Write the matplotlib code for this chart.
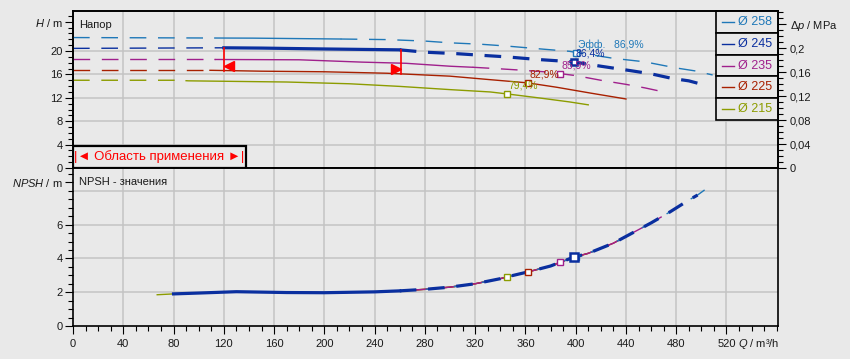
import numpy as np
import matplotlib.pyplot as plt
import matplotlib.transforms as mtransforms
from matplotlib.patches import Rectangle
from matplotlib.ticker import MultipleLocator

plt.rcParams['font.family'] = ['Liberation Sans', 'DejaVu Sans']
plt.rcParams['mathtext.fontset'] = 'custom'
plt.rcParams['mathtext.rm'] = 'Liberation Sans'
plt.rcParams['mathtext.it'] = 'Liberation Sans:italic'
plt.rcParams['lines.scale_dashes'] = False

# --- данные ---
labels = ['Ø 258', 'Ø 245', 'Ø 235', 'Ø 225', 'Ø 215']
colors = ['#1f78b8', '#0a2f9f', '#a0208c', '#a82000', '#8c9c00']

q258 = [0, 143, 213, 250, 280, 300, 325, 345, 375, 395, 430, 455, 480, 495, 509]
h258 = [22.3, 22.2, 22.05, 21.95, 21.7, 21.4, 21.15, 20.85, 20.3, 19.95, 18.75, 18.15, 17.1, 16.6, 15.9]
q245 = [0, 120, 150, 200, 260, 280, 305, 330, 345, 370, 398, 420, 445, 460, 477, 490, 497]
h245 = [20.45, 20.55, 20.5, 20.35, 20.2, 19.8, 19.55, 19.2, 19.0, 18.55, 18.15, 17.4, 16.6, 16.1, 15.3, 14.9, 14.5]
q235 = [0, 115, 180, 230, 265, 300, 320, 340, 355, 375, 387, 400, 420, 440, 455, 468]
h235 = [18.55, 18.55, 18.5, 18.1, 17.9, 17.4, 17.2, 16.95, 16.75, 16.45, 16.15, 15.8, 15.0, 14.3, 13.7, 13.1]
q225 = [0, 110, 150, 200, 250, 300, 332, 362, 385, 412, 440]
h225 = [16.7, 16.7, 16.55, 16.45, 16.2, 15.7, 15.1, 14.55, 13.8, 12.8, 11.8]
q215 = [0, 83, 92, 170, 220, 260, 300, 332, 346, 372, 395, 410]
h215 = [15.0, 15.0, 14.9, 14.7, 14.4, 13.95, 13.4, 13.0, 12.65, 11.95, 11.3, 10.8]

curves_q = [q258, q245, q235, q225, q215]
curves_h = [h258, h245, h235, h225, h215]
solid_from = [113, 120, 113, 109, 90]
solid_to = [213, 260, 318, 440, 410]

# NPSH (общая кривая)
q_npsh = [67, 80, 100, 130, 170, 200, 240, 260, 280, 300, 320, 340, 346, 362, 380, 387,
          398, 410, 430, 445, 460, 475, 490, 497, 510]
npsh = [1.85, 1.9, 1.95, 2.03, 1.98, 1.97, 2.02, 2.08, 2.17, 2.3, 2.5, 2.8, 2.92, 3.2, 3.55, 3.75,
        4.06, 4.3, 4.9, 5.5, 6.1, 6.75, 7.45, 7.75, 8.45]
npsh_from = [80, 80, 80, 80, 67]

# рабочие точки
q_op = [400.5, 398.6, 387.4, 362.3, 345.6]
h_op = [19.6, 18.2, 16.15, 14.55, 12.65]
eff = ['Эфф.   86,9%', '86,4%', '85,9%', '82,9%', '79,4%']

# область применения
q_app = [120, 261]

h_ticks = [0, 4, 8, 12, 16, 20]
dp_ticks = [0, 0.04, 0.08, 0.12, 0.16, 0.2]
dp_labels = ['0', '0,04', '0,08', '0,12', '0,16', '0,2']
n_ticks = [0, 2, 4, 6]
q_ticks = list(range(0, 521, 40))

bg = '#e9e9e9'
grid_c = '#c4c4c4'
txt_c = '#1a1a1a'
dash = (0, (12, 8.4))


def split(q, h, q0, q1):
    q = np.asarray(q, float)
    h = np.asarray(h, float)

    def seg(a, b):
        m = (q > a) & (q < b)
        qs = np.r_[a, q[m], b]
        return qs, np.interp(qs, q, h)
    return seg(q[0], q0), seg(q0, q1), seg(q1, q[-1])


fig = plt.figure(figsize=(8.5, 3.59), dpi=100, facecolor=bg)
ax1 = fig.add_axes([73/850, (359-168)/359, 705/850, 157/359], facecolor=bg)
ax2 = fig.add_axes([73/850, (359-326)/359, 705/850, 158/359], facecolor=bg)

for ax in (ax1, ax2):
    ax.set_xlim(0, 561)
    for s in ax.spines.values():
        s.set_linewidth(1.2)
        s.set_color('black')
    for v in q_ticks[1:]:
        ax.axvline(v, color=grid_c, lw=1.1, zorder=0)
    ax.xaxis.set_major_locator(MultipleLocator(40))
    ax.xaxis.set_minor_locator(MultipleLocator(10))
    ax.tick_params(which='both', direction='out', width=0.8, colors='black',
                   labelcolor=txt_c, labelsize=8)
    ax.tick_params(which='major', length=5.5)
    ax.tick_params(which='minor', length=3.5)

# --- напор ---
ax1.set_ylim(0, 26.84)
for v in h_ticks[1:]:
    ax1.axhline(v, color=grid_c, lw=1.1, zorder=0)
ax1.set_yticks(h_ticks + [25])
ax1.set_yticklabels([str(v) for v in h_ticks] + ['$H$ / m'])
ax1.yaxis.set_minor_locator(MultipleLocator(1))
ax1.tick_params(axis='y', pad=2)
ax1.tick_params(axis='x', which='both', length=0, labelbottom=False)

for i in range(5):
    (qa, ha), (qb, hb), (qc, hc) = split(curves_q[i], curves_h[i], solid_from[i], solid_to[i])
    lw = 2.3 if i == 1 else 1.0
    z = 4 if i == 1 else 3
    ax1.plot(qa, ha, color=colors[i], lw=1.0, linestyle=dash, zorder=3)
    ax1.plot(qb, hb, color=colors[i], lw=lw, zorder=z)
    ax1.plot(qc, hc, color=colors[i], lw=lw, linestyle=dash, zorder=z)

# границы области применения
for k, qa in enumerate(q_app):
    h_top = np.interp(qa, q245, h245)
    h_bot = np.interp(qa, q225, h225)
    ax1.plot([qa, qa], [h_bot, h_top], color='#ff0000', lw=1.2, zorder=5)
    dx = 5 if k == 0 else -5
    tr = mtransforms.offset_copy(ax1.transData, fig=fig, x=dx, y=4.5, units='dots')
    ax1.plot([qa], [h_bot], marker='<' if k == 0 else '>', ms=7.5, color='#ff0000',
             mec='#ff0000', transform=tr, zorder=5)

# рабочие точки
for i in range(5):
    big = i == 1
    ax1.plot([q_op[i]], [h_op[i]], marker='s', ms=5 if big else 5, mfc='white',
             mec=colors[i], mew=1.8 if big else 1.0, zorder=6)
    ax1.annotate(eff[i], (q_op[i], h_op[i]), xytext=(1.5, 8.5), textcoords='offset pixels',
                 ha='left', va='center', fontsize=7.5, color=colors[i], zorder=7)

ax1.text(0.009, 0.914, 'Напор', transform=ax1.transAxes, fontsize=8, color=txt_c,
         ha='left', va='center')

# правая ось Δp
axr = ax1.twinx()
axr.set_ylim(0, 0.2617)
axr.set_yticks(dp_ticks + [0.24])
axr.set_yticklabels(dp_labels + ['$Δp$ / MPa'])
axr.yaxis.set_minor_locator(MultipleLocator(0.01))
axr.tick_params(which='both', direction='out', width=0.8, labelsize=8, labelcolor=txt_c, pad=3)
axr.tick_params(which='major', length=5.5)
axr.tick_params(which='minor', length=3.5)
for s in axr.spines.values():
    s.set_linewidth(1.2)

# легенда
x0, x1 = 0.9116, 1.0
cell = (1.0 - 0.3057) / 5
for i in range(5):
    yb = 1.0 - (i + 1) * cell
    ax1.add_patch(Rectangle((x0, yb), x1 - x0, cell, transform=ax1.transAxes,
                            facecolor=bg, edgecolor='black', lw=1.2, zorder=8, clip_on=False))
    yc = yb + cell / 2
    ax1.plot([0.921, 0.937], [yc, yc], transform=ax1.transAxes, color=colors[i], lw=1.0,
             zorder=9, clip_on=False)
    ax1.text(0.943, yc, labels[i], transform=ax1.transAxes, fontsize=9, color=colors[i],
             ha='left', va='center', zorder=9)

# область применения
ax1.add_patch(Rectangle((0, 0), 0.245, 0.142, transform=ax1.transAxes, facecolor=bg,
                        edgecolor='black', lw=1.6, zorder=8))
ax1.text(0.1225, 0.07, '|◄ Область применения ►|', transform=ax1.transAxes, fontsize=9.5,
         color='#ff0000', ha='center', va='center', zorder=9)

# --- NPSH ---
ax2.set_ylim(0, 9.35)
for v in [2, 4, 6, 8]:
    ax2.axhline(v, color=grid_c, lw=1.1, zorder=0)
ax2.set_yticks(n_ticks + [8.5])
ax2.set_yticklabels([str(v) for v in n_ticks] + ['$NPSH$ / m'])
ax2.yaxis.set_minor_locator(MultipleLocator(0.5))
ax2.tick_params(axis='y', pad=2)
ax2.tick_params(axis='x', pad=4)
ax2.set_xticks(q_ticks)
ax2.set_xticklabels([str(v) for v in q_ticks])

order = [4, 3, 2, 0, 1]
for i in order:
    qn = np.asarray(q_npsh, float)
    m = (qn >= npsh_from[i]) & (qn <= curves_q[i][-1])
    qs = np.r_[qn[m], curves_q[i][-1]]
    ns = np.interp(qs, q_npsh, npsh)
    if i == 1:
        (qa, na), (qb, nb), (qc, nc) = split(qs, ns, qs[0], solid_to[i])
        ax2.plot(qb, nb, color=colors[i], lw=2.3, zorder=4)
        ax2.plot(qc, nc, color=colors[i], lw=2.3, linestyle=dash, zorder=4)
    elif i == 0:
        (qa, na), (qb, nb), (qc, nc) = split(qs, ns, qs[0], solid_to[i])
        ax2.plot(qb, nb, color=colors[i], lw=1.0, zorder=3)
        ax2.plot(qc, nc, color=colors[i], lw=1.0, linestyle=dash, zorder=3)
    else:
        ax2.plot(qs, ns, color=colors[i], lw=1.0, zorder=3)

for i in range(5):
    big = i == 1
    ax2.plot([q_op[i]], [np.interp(q_op[i], q_npsh, npsh)], marker='s', ms=6 if big else 5,
             mfc='white', mec=colors[i], mew=1.8 if big else 1.0, zorder=6)

ax2.text(0.009, 0.913, 'NPSH - значения', transform=ax2.transAxes, fontsize=8, color=txt_c,
         ha='left', va='center')
blend = mtransforms.blended_transform_factory(ax2.transData, ax2.transAxes)
ax2.text(546, -0.114, '$Q$ / m³/h', transform=blend, fontsize=8, color=txt_c,
         ha='center', va='center')

fig.savefig('out.png', dpi=100, facecolor=bg)
